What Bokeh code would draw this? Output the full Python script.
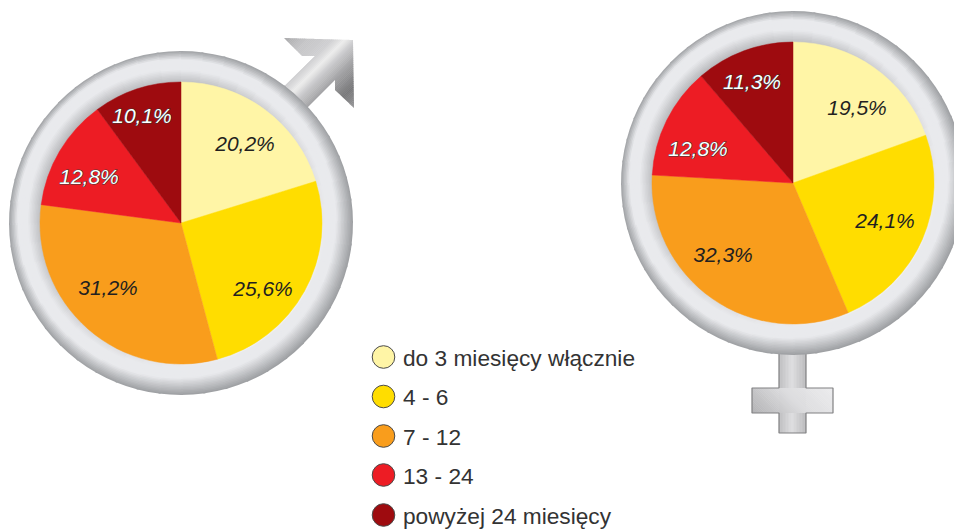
import math
from bokeh.plotting import figure
from bokeh.embed import file_html
from bokeh.resources import INLINE
from bokeh.core.properties import value

# ---- data ----
categories = ["do 3 miesięcy włącznie", "4 - 6", "7 - 12", "13 - 24", "powyżej 24 miesięcy"]
men_values = [20.2, 25.6, 31.2, 12.8, 10.1]
women_values = [19.5, 24.1, 32.3, 12.8, 11.3]
men_labels = ["20,2%", "25,6%", "31,2%", "12,8%", "10,1%"]
women_labels = ["19,5%", "24,1%", "32,3%", "12,8%", "11,3%"]

# ---- styles / layout ----
colors = ["#FFF5A6", "#FFDD00", "#F99D1C", "#ED1C24", "#9E0B0F"]
text_colors = ["#231F20", "#231F20", "#231F20", "#FFFFFF", "#FFFFFF"]
men_label_xy = [(245, 143), (263, 288), (108, 287), (89, 176), (142, 115)]
women_label_xy = [(857, 107), (885, 220), (723, 254), (698, 148), (752, 81)]
legend_y = [357, 396.5, 436, 475, 515]
MEN_C = (181, 223)
WOMEN_C = (793, 183)
R_PIE, R_RING = 141, 172
W, H = 954, 531


def Y(sy):
    return 531 - sy


def hex2rgb(h):
    return tuple(int(h[i:i + 2], 16) for i in (1, 3, 5))


def lerp_color(stops, u):
    if u <= stops[0][0]:
        return stops[0][1]
    for (u0, c0), (u1, c1) in zip(stops, stops[1:]):
        if u <= u1:
            t = (u - u0) / (u1 - u0)
            a, b = hex2rgb(c0), hex2rgb(c1)
            return "#%02x%02x%02x" % tuple(round(a[i] + (b[i] - a[i]) * t) for i in range(3))
    return stops[-1][1]


def clip(poly, dx, dy, lo, hi):
    def half(pts, f):
        out = []
        for i, a in enumerate(pts):
            b = pts[(i + 1) % len(pts)]
            fa, fb = f(a), f(b)
            if fa >= 0:
                out.append(a)
            if fa * fb < 0:
                t = fa / (fa - fb)
                out.append((a[0] + (b[0] - a[0]) * t, a[1] + (b[1] - a[1]) * t))
        return out
    pts = half(poly, lambda q: q[0] * dx + q[1] * dy - lo)
    if pts:
        pts = half(pts, lambda q: hi - (q[0] * dx + q[1] * dy))
    return pts


p = figure(width=W, height=H, x_range=(0.5, W + 0.5), y_range=(-0.5, H - 0.5),
           x_axis_type=None, y_axis_type=None, toolbar_location=None,
           output_backend="svg", min_border=0, outline_line_color=None,
           background_fill_color="#FFFFFF", border_fill_color="#FFFFFF")
p.grid.visible = False


def banded(poly, dx, dy, stops, step=1.5):
    vals = [q[0] * dx + q[1] * dy for q in poly]
    lo, hi = min(vals), max(vals)
    xs, ys, cs = [], [], []
    u = lo
    while u < hi:
        piece = clip(poly, dx, dy, u, u + step + 0.4)
        if len(piece) >= 3:
            xs.append([q[0] for q in piece])
            ys.append([Y(q[1]) for q in piece])
            cs.append(lerp_color(stops, u + step / 2))
        u += step
    p.patches(xs, ys, fill_color=cs, line_color=None)


def outline(poly, color="#808082", width=1.2):
    p.patch([q[0] for q in poly] + [poly[0][0]], [Y(q[1]) for q in poly] + [Y(poly[0][1])],
            fill_color=None, line_color=color, line_width=width)


def ring(center):
    cx, cy = center
    na = 48
    nr = 21
    xs, ys, inner, outer, sa, ea, cs = [], [], [], [], [], [], []
    for j in range(nr):
        rout = R_RING - j * (R_RING - R_PIE) / nr
        rmid = rout - (R_RING - R_PIE) / nr / 2
        for i in range(na):
            th0 = 2 * math.pi * i / na
            th1 = 2 * math.pi * (i + 1) / na + 0.012
            th = (th0 + th1) / 2
            s = (1 - math.cos(th - 3 * math.pi / 4)) / 2
            p_out = 165 - 12 * s
            p_in = 155 - 12 * s
            edge_in = lerp_color([(0, "#B7B8BB"), (1, "#F2F2F4")], s)
            edge_out = lerp_color([(0, "#A0A2A5"), (1, "#9C9EA1")], s)
            stops = [(R_PIE, edge_in), (p_in, "#E9EAED"), (p_out, "#E9EAED"), (R_RING, edge_out)]
            xs.append(cx); ys.append(Y(cy)); inner.append(R_PIE - 1); outer.append(rout)
            sa.append(th0); ea.append(th1); cs.append(lerp_color(stops, rmid))
    p.annular_wedge(xs, ys, inner, outer, sa, ea, fill_color=cs, line_color=None)


def pie(center, vals):
    total = sum(vals)
    start = math.pi / 2
    starts, ends = [], []
    for v in vals:
        end = start - 2 * math.pi * v / total
        starts.append(start); ends.append(end)
        start = end
    n = len(vals)
    p.wedge([center[0]] * n, [Y(center[1])] * n, R_PIE, starts, ends, direction="clock",
            fill_color=colors, line_color=colors, line_width=0.5)


def labels(xy, texts):
    font = dict(text_font=value("Liberation Sans"), text_font_style="italic", text_font_size="21px",
                text_align="center", text_baseline="middle")
    p.text([q[0] for q in xy[3:]], [Y(q[1]) for q in xy[3:]], text=texts[3:], text_color="#3A3A3A",
           text_outline_color="#3A3A3A", **font)
    p.text([q[0] for q in xy], [Y(q[1]) for q in xy], text=texts, text_color=text_colors, **font)


# male arrow
arrow = [(284, 38), (353, 40), (354, 108), (335, 90), (335, 80), (295, 120), (270, 100), (315, 56), (302, 56)]
banded(arrow, 0.7071, 0.7071,
       [(322 * .7071, "#A8A8AA"), (345 * .7071, "#C4C4C6"), (372 * .7071, "#D0D0D2"),
        (385 * .7071, "#ECECEC"), (398 * .7071, "#C6C6C8"), (415 * .7071, "#A2A2A4"),
        (440 * .7071, "#78787A"), (462 * .7071, "#98989A")])

# female cross
stem = [(779, 340), (806, 340), (806, 433), (779, 433)]
bar = [(752, 388), (833, 388), (833, 413), (752, 413)]
banded(stem, 1, 0, [(779, "#BEBEC0"), (792, "#DEDEE0"), (806, "#BABABC")])
banded(bar, 0.7071, -0.7071,
       [(339 * .7071, "#B2B2B4"), (365 * .7071, "#C6C6C8"), (392 * .7071, "#DCDCDE"), (445 * .7071, "#ECECEE")])
outline([(779, 340), (806, 340), (806, 388), (833, 388), (833, 413), (806, 413), (806, 433),
         (779, 433), (779, 413), (752, 413), (752, 388), (779, 388)])

# rings and pies
ring(MEN_C)
ring(WOMEN_C)
pie(MEN_C, men_values)
pie(WOMEN_C, women_values)
labels(men_label_xy, men_labels)
labels(women_label_xy, women_labels)

# legend
n = len(categories)
p.circle([383.5] * n, [Y(v) for v in legend_y], radius=11.3, fill_color=colors,
         line_color="#4A4A4A", line_width=1)
p.text([403] * n, [Y(v + 0.5) for v in legend_y], text=categories, text_color="#333333",
       text_font=value("Liberation Sans"), text_font_size="22.7px",
       text_align="left", text_baseline="middle")

open("out.html", "w").write(file_html(p, INLINE))
